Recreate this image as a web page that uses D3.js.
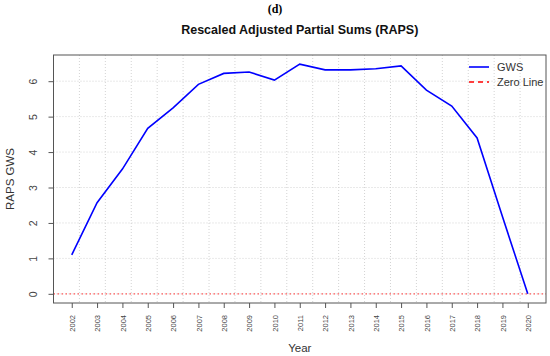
<!DOCTYPE html>
<html>
<head>
<meta charset="utf-8">
<script src="https://cdn.jsdelivr.net/npm/d3@7"></script>
<style>
  body { margin: 0; background: #fff; }
  svg text { font-family: "Liberation Sans", Arial, sans-serif; }
</style>
</head>
<body>
<svg width="550" height="356"></svg>
<script>
// chart values
const years = [2002, 2003, 2004, 2005, 2006, 2007, 2008, 2009, 2010, 2011,
               2012, 2013, 2014, 2015, 2016, 2017, 2018, 2019, 2020];
const raps = [1.10, 2.57, 3.52, 4.67, 5.25, 5.91, 6.22, 6.26, 6.03, 6.48,
              6.32, 6.32, 6.35, 6.43, 5.75, 5.30, 4.40, 2.18, 0.0];
const yTicks = [0, 1, 2, 3, 4, 5, 6];
const legendLabels = ["GWS", "Zero Line"];

// plot box (note: "top" is taken by window.top, so use other names)
const boxL = 53.5, boxR = 546, boxT = 55, boxB = 303;

var svg = d3.select("svg");

// R-style 4% padding on both axes
let xPad = (d3.max(years) - d3.min(years)) * 0.04;
let yPad = (d3.max(raps) - d3.min(raps)) * 0.04;
let xScale = d3.scaleLinear().domain([d3.min(years) - xPad, d3.max(years) + xPad]).range([boxL, boxR]);
let yScale = d3.scaleLinear().domain([d3.min(raps) - yPad, d3.max(raps) + yPad]).range([boxB, boxT]);

// grid: vertical lines split the box into 19 cells, horizontal at the y ticks
let xd = xScale.domain();
let gridX = d3.range(1, 19).map((k) => xd[0] + k * (xd[1] - xd[0]) / 19);
svg.append("g").selectAll("line").data(gridX).enter().append("line")
    .attr("x1", (d) => xScale(d)).attr("x2", (d) => xScale(d))
    .attr("y1", boxT).attr("y2", boxB)
    .attr("stroke", "#d3d3d3").attr("stroke-dasharray", "1,2");
svg.append("g").selectAll("line").data(yTicks).enter().append("line")
    .attr("x1", boxL).attr("x2", boxR)
    .attr("y1", (d) => yScale(d)).attr("y2", (d) => yScale(d))
    .attr("stroke", "#d3d3d3").attr("stroke-dasharray", "1,2");

// zero line
svg.append("line")
    .attr("x1", boxL).attr("x2", boxR)
    .attr("y1", yScale(0)).attr("y2", yScale(0))
    .attr("stroke", "#ff5a5a").attr("stroke-width", 1.2).attr("stroke-dasharray", "1.5,2.5");

// the RAPS line
let line = d3.line().x((d, i) => xScale(years[i])).y((d) => yScale(d));
svg.append("path").datum(raps)
    .attr("d", line)
    .attr("fill", "none").attr("stroke", "#0000ff").attr("stroke-width", 1.6);

// box
svg.append("rect")
    .attr("x", boxL).attr("y", boxT)
    .attr("width", boxR - boxL).attr("height", boxB - boxT)
    .attr("fill", "none").attr("stroke", "#555").attr("stroke-width", 1);

// y axis
let yAxis = svg.append("g").attr("transform", "translate(" + boxL + ",0)")
    .call(d3.axisLeft(yScale).tickValues(yTicks).tickSize(5).tickFormat(d3.format("d")));
yAxis.select(".domain").remove();
yAxis.selectAll("line").attr("stroke", "#555");
yAxis.selectAll("text")
    .attr("transform", "translate(-20,0) rotate(-90)")
    .attr("x", 0).attr("y", 0).attr("dy", "0.35em")
    .attr("text-anchor", "middle")
    .style("font-size", "10.5px").attr("fill", "#444");

// x axis
let xAxis = svg.append("g").attr("transform", "translate(0," + boxB + ")")
    .call(d3.axisBottom(xScale).tickValues(years).tickSize(5).tickFormat(d3.format("d")));
xAxis.select(".domain").remove();
xAxis.selectAll("line").attr("stroke", "#555");
xAxis.selectAll("text")
    .attr("transform", "rotate(-90)")
    .attr("x", -12).attr("y", 0).attr("dy", "0.35em")
    .attr("text-anchor", "end")
    .style("font-size", "7.5px").attr("fill", "#444");

// axis titles
svg.append("text")
    .attr("text-anchor", "middle")
    .attr("transform", "translate(14," + (boxT + boxB) / 2 + ") rotate(-90)")
    .style("font-size", "11.5px").attr("fill", "#333")
    .text("RAPS GWS");

svg.append("text")
    .attr("text-anchor", "middle")
    .attr("x", (boxL + boxR) / 2).attr("y", 352)
    .style("font-size", "11.5px").attr("fill", "#333")
    .text("Year");

// titles
svg.append("text")
    .attr("text-anchor", "middle")
    .attr("x", 275).attr("y", 13)
    .style("font-family", "'Liberation Serif', 'Times New Roman', serif")
    .style("font-weight", "bold").style("font-size", "12px")
    .text("(d)");

svg.append("text")
    .attr("text-anchor", "middle")
    .attr("x", (boxL + boxR) / 2).attr("y", 34)
    .style("font-weight", "bold").style("font-size", "12.5px").attr("fill", "#111")
    .text("Rescaled Adjusted Partial Sums (RAPS)");

// legend
let legend = svg.append("g");
legend.append("line").attr("x1", 469).attr("x2", 489).attr("y1", 67).attr("y2", 67)
    .attr("stroke", "#0000ff").attr("stroke-width", 1.6);
legend.append("line").attr("x1", 469).attr("x2", 489).attr("y1", 82).attr("y2", 82)
    .attr("stroke", "#ff0000").attr("stroke-width", 1.6).attr("stroke-dasharray", "5,4");
legend.selectAll("text.lab").data(legendLabels).enter().append("text")
    .attr("class", "lab")
    .attr("x", 497).attr("y", (d, i) => 67 + i * 15).attr("dy", "0.35em")
    .style("font-size", "11px").attr("fill", "#333")
    .text((d) => d);
</script>
</body>
</html>
